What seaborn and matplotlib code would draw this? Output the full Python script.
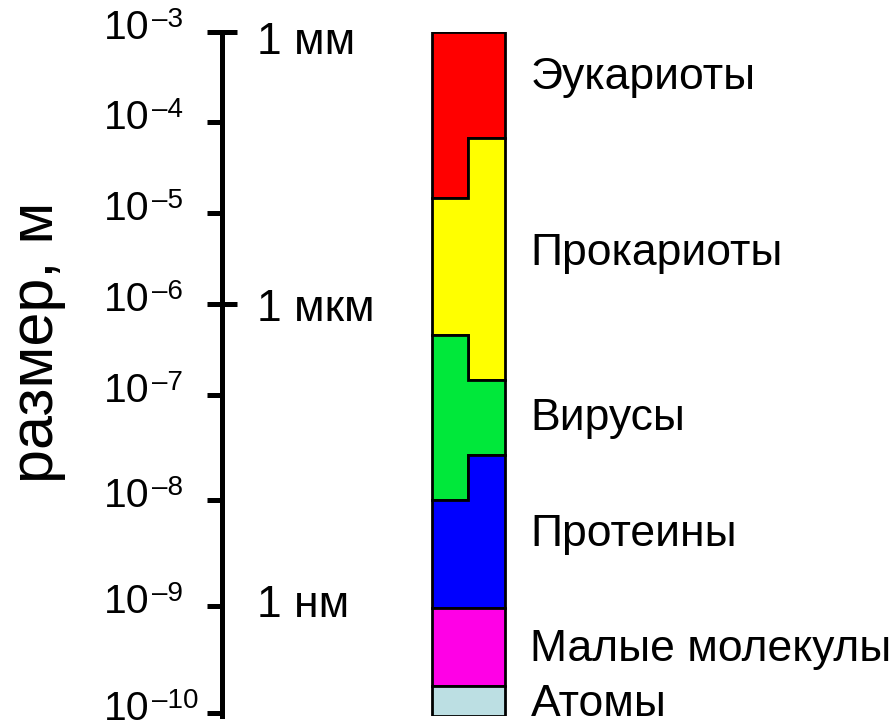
import numpy as np
import matplotlib
matplotlib.use("Agg")
import matplotlib.pyplot as plt
import matplotlib.transforms as mtransforms
import seaborn as sns

# Data: size ranges (m) of each group, left / right half of the bar
categories = ['Эукариоты', 'Прокариоты', 'Вирусы', 'Протеины', 'Малые молекулы', 'Атомы']
colors = ['#ff0000', '#ffff00', '#00e83a', '#0000ff', '#ff00e6', '#bcdfe3']
left_low = [1.46e-5, 4.57e-7, 1e-8, 9.6e-10, 1.79e-10, 9.37e-11]
left_high = [1e-3, 1.46e-5, 4.57e-7, 1e-8, 9.6e-10, 1.79e-10]
right_low = [6.67e-5, 1.46e-7, 2.68e-8, 9.6e-10, 1.79e-10, 9.37e-11]
right_high = [1e-3, 6.67e-5, 1.46e-7, 2.68e-8, 9.6e-10, 1.79e-10]
label_y = [3.1e-4, 3.6e-6, 6.0e-8, 4.7e-9, 3.9e-10, 1.2e-10]

# Axis ticks and named scale marks
decades = [-10, -9, -8, -7, -6, -5, -4, -3]
exponent_labels = ['–%d' % (-d) for d in decades]
mark_values = [1e-3, 1e-6, 1e-9]
mark_labels = ['1 мм', '1 мкм', '1 нм']

# Decades are not evenly spaced in the original drawing
decade_layout = [0, 107, 213, 318, 409, 500, 591, 681]
knots_exp = np.array([-11] + decades + [-2])
knots_pos = np.array([-107] + decade_layout + [772])


def forward(y):
    e = np.log10(np.clip(np.asarray(y, dtype=float), 1e-300, None))
    return np.interp(e, knots_exp, knots_pos)


def inverse(v):
    return 10 ** np.interp(np.asarray(v, dtype=float), knots_pos, knots_exp)


sns.set_theme(style="white")
plt.rcParams['font.family'] = ['Liberation Sans', 'DejaVu Sans']
plt.rcParams['text.color'] = 'black'
plt.rcParams['ytick.labelcolor'] = 'black'

fig = plt.figure(figsize=(8.94, 7.23), dpi=100)
ax = fig.add_axes([222 / 894, 7 / 723, 672 / 894, 684 / 723])
ax.set_yscale('function', functions=(forward, inverse))
ax.set_ylim(9.37e-11, 1e-3)
ax.set_xlim(-6.25, 12.16)

# Bar made of step-shaped blocks (left column x=0, right column x=1)
x0, xm, x1 = -0.5, 0.5, 1.5
for i, name in enumerate(categories):
    xs = [x0, x0, xm, xm, x1, x1, xm, xm]
    ys = [left_low[i], left_high[i], left_high[i], right_high[i],
          right_high[i], right_low[i], right_low[i], left_low[i]]
    ax.fill(xs, ys, facecolor=colors[i], edgecolor='black', linewidth=2, zorder=2)
    ax.text(2.2, label_y[i], name, fontsize=32, ha='left', va='center')

# small downward nudges (pixels) so the marks sit like in the original
mark_nudge = [11, 6, 0]
for val, lab, dy in zip(mark_values, mark_labels, mark_nudge):
    shift = mtransforms.ScaledTranslation(0, -dy / 100, fig.dpi_scale_trans)
    ax.text(-5.3, val, lab, fontsize=32, ha='left', va='center',
            transform=ax.transData + shift)

# Axis styling
sns.despine(ax=ax, top=True, right=True, bottom=True, left=False)
ax.spines['left'].set_linewidth(3.6)
ax.spines['left'].set_color('black')
ax.set_xticks([])
ax.set_yticks([10.0 ** d for d in decades])
ax.set_yticklabels(['10'] * len(decades))
ax.yaxis.set_minor_locator(matplotlib.ticker.FixedLocator([1e-3, 1e-6]))
ax.yaxis.set_minor_formatter(matplotlib.ticker.NullFormatter())
ax.yaxis.remove_overlapping_locs = False
ax.tick_params(axis='y', which='major', direction='out', length=10.8, width=3.6,
               color='black', labelsize=29.5, pad=74, left=True)
ax.tick_params(axis='y', which='minor', direction='in', length=10.8, width=3.6,
               color='black', left=True)
label_shift = mtransforms.ScaledTranslation(0, -7 / 100, fig.dpi_scale_trans)
for lab, sup in zip(ax.get_yticklabels(), exponent_labels):
    lab.set_ha('left')
    lab.set_va('baseline')
    lab.set_transform(lab.get_transform() + label_shift)
    # exponent as a small raised text right after "10"
    ax.annotate(sup, xy=(1.0, 1.0), xycoords=lab, xytext=(1.5, 1.5),
                textcoords='offset points', fontsize=20, ha='left', va='top',
                annotation_clip=False)
ax.grid(False)

fig.text(37 / 894, 1 - 342 / 723, 'размер, м', rotation=90, fontsize=44,
         ha='center', va='center')

fig.savefig('out.png', dpi=100)
